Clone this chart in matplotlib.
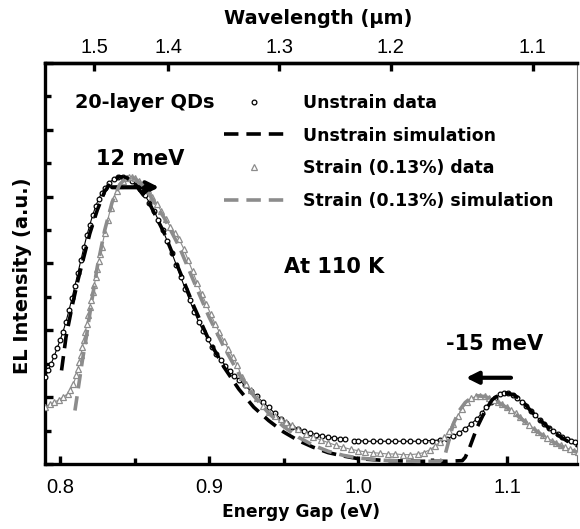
"""
EL spectra of 20-layer QDs, unstrained vs strained (0.13%)
"""

import matplotlib
matplotlib.use("Agg")
import matplotlib.pyplot as plt
from matplotlib.lines import Line2D

plt.rcParams["font.family"] = ["Liberation Sans", "DejaVu Sans"]

# unstrain data (energy in eV, intensity in a.u.)
unstrain_ev = [
    0.790, 0.792, 0.794, 0.796, 0.798, 0.800, 0.802, 0.804, 0.806, 0.808,
    0.810, 0.812, 0.814, 0.816, 0.818, 0.820, 0.822, 0.824, 0.826, 0.828,
    0.830, 0.833, 0.836, 0.839, 0.842, 0.845, 0.848, 0.851, 0.854, 0.857,
    0.860, 0.863, 0.866, 0.869, 0.872, 0.875, 0.878, 0.881, 0.884, 0.887,
    0.890, 0.893, 0.896, 0.899, 0.902, 0.905, 0.908, 0.911, 0.914, 0.917,
    0.920, 0.924, 0.928, 0.932, 0.936, 0.940, 0.944, 0.948, 0.952, 0.956,
    0.960, 0.964, 0.968, 0.972, 0.976, 0.980, 0.984, 0.988, 0.991,
    0.997, 1.000, 1.005, 1.010, 1.015, 1.020, 1.025, 1.030, 1.035, 1.040,
    1.045, 1.050, 1.055, 1.060, 1.064, 1.068, 1.072, 1.076, 1.080, 1.083,
    1.086, 1.089, 1.092, 1.095, 1.098, 1.101, 1.104, 1.107, 1.110, 1.113,
    1.116, 1.119, 1.122, 1.125, 1.128, 1.131, 1.134, 1.137, 1.140, 1.143,
    1.146, 1.149,
]
unstrain_int = [
    1.30, 1.40, 1.50, 1.61, 1.73, 1.85, 1.98, 2.13, 2.30, 2.48,
    2.67, 2.86, 3.05, 3.24, 3.42, 3.58, 3.73, 3.86, 3.97, 4.06,
    4.13, 4.21, 4.26, 4.29, 4.30, 4.28, 4.24, 4.18, 4.11, 4.02,
    3.91, 3.79, 3.65, 3.50, 3.33, 3.16, 2.98, 2.80, 2.62, 2.45,
    2.28, 2.13, 1.99, 1.87, 1.75, 1.65, 1.56, 1.47, 1.39, 1.32,
    1.26, 1.18, 1.09, 1.01, 0.93, 0.85, 0.76, 0.68, 0.62, 0.56,
    0.52, 0.49, 0.46, 0.44, 0.42, 0.40, 0.39, 0.38, 0.37,
    0.35, 0.35, 0.34, 0.34, 0.34, 0.34, 0.34, 0.34, 0.34, 0.34,
    0.35, 0.35, 0.36, 0.38, 0.42, 0.47, 0.53, 0.60, 0.68, 0.76,
    0.85, 0.93, 0.99, 1.04, 1.06, 1.06, 1.03, 0.98, 0.93, 0.87,
    0.80, 0.73, 0.66, 0.60, 0.54, 0.49, 0.45, 0.41, 0.38, 0.35,
    0.33, 0.31,
]

# strain (0.13%) data
strain_ev = [
    0.790, 0.793, 0.796, 0.799, 0.802, 0.805, 0.807, 0.809, 0.811, 0.812,
    0.813, 0.814, 0.815, 0.816, 0.817, 0.818, 0.819, 0.820, 0.821, 0.822,
    0.823, 0.824, 0.825, 0.826, 0.827, 0.828, 0.830, 0.832, 0.834, 0.836,
    0.838, 0.840, 0.842, 0.844, 0.846, 0.848, 0.850, 0.853, 0.856, 0.859,
    0.862, 0.865, 0.868, 0.871, 0.874, 0.877, 0.880, 0.883, 0.886, 0.889,
    0.892, 0.895, 0.898, 0.901, 0.904, 0.907, 0.910, 0.913, 0.916, 0.919,
    0.922, 0.925, 0.928, 0.932, 0.936, 0.940, 0.944, 0.948, 0.952, 0.956,
    0.960, 0.965, 0.970, 0.975, 0.980, 0.985, 0.990, 0.995, 1.000, 1.005,
    1.010, 1.015, 1.020, 1.025, 1.030, 1.035, 1.040, 1.044, 1.048, 1.052,
    1.055, 1.058, 1.061, 1.064, 1.067, 1.070, 1.073, 1.076, 1.079, 1.082,
    1.085, 1.088, 1.091, 1.094, 1.097, 1.100, 1.103, 1.106, 1.109, 1.112,
    1.115, 1.118, 1.121, 1.124, 1.127, 1.130, 1.133, 1.136, 1.139, 1.142,
    1.145, 1.148,
]
strain_int = [
    0.86, 0.89, 0.92, 0.96, 1.00, 1.05, 1.10, 1.20, 1.33, 1.42,
    1.52, 1.63, 1.75, 1.86, 1.98, 2.10, 2.23, 2.35, 2.46, 2.57,
    2.68, 2.80, 2.91, 3.03, 3.14, 3.25, 3.45, 3.65, 3.83, 3.98,
    4.09, 4.18, 4.24, 4.28, 4.30, 4.30, 4.28, 4.24, 4.18, 4.10,
    4.00, 3.89, 3.78, 3.66, 3.55, 3.45, 3.36, 3.22, 3.05, 2.88,
    2.71, 2.55, 2.40, 2.25, 2.10, 1.97, 1.84, 1.72, 1.60, 1.48,
    1.30, 1.20, 1.10, 0.98, 0.87, 0.78, 0.72, 0.67, 0.63, 0.58,
    0.52, 0.45, 0.40, 0.36, 0.32, 0.28, 0.25, 0.22, 0.20, 0.18,
    0.17, 0.16, 0.15, 0.15, 0.14, 0.14, 0.15, 0.17, 0.21, 0.27,
    0.33, 0.40, 0.49, 0.60, 0.72, 0.83, 0.92, 0.98, 1.01, 1.02,
    1.01, 0.98, 0.95, 0.92, 0.89, 0.85, 0.81, 0.76, 0.71, 0.65,
    0.59, 0.53, 0.48, 0.43, 0.39, 0.35, 0.31, 0.28, 0.25, 0.22,
    0.20, 0.18,
]

# unstrain simulation
unstrain_sim_ev = [
    0.801, 0.804, 0.808, 0.812, 0.816, 0.820, 0.825, 0.830, 0.835, 0.840,
    0.845, 0.850, 0.860, 0.870, 0.880, 0.890, 0.900, 0.910, 0.920, 0.930,
    0.940, 0.950, 0.960, 0.970, 0.980, 0.990, 1.000, 1.020, 1.040, 1.060,
    1.070, 1.072, 1.075, 1.080, 1.085, 1.090, 1.095, 1.100, 1.105, 1.110,
    1.115, 1.120, 1.125, 1.130, 1.135, 1.140, 1.145, 1.150,
]
unstrain_sim_int = [
    1.40, 1.90, 2.35, 2.75, 3.10, 3.45, 3.80, 4.08, 4.23, 4.30,
    4.28, 4.20, 3.90, 3.45, 2.90, 2.35, 1.85, 1.45, 1.12, 0.85,
    0.65, 0.48, 0.35, 0.25, 0.17, 0.12, 0.08, 0.05, 0.04, 0.04,
    0.05, 0.10, 0.25, 0.55, 0.78, 0.96, 1.04, 1.06, 1.03, 0.95,
    0.82, 0.70, 0.60, 0.50, 0.42, 0.35, 0.29, 0.25,
]

# strain (0.13%) simulation
strain_sim_ev = [
    0.810, 0.812, 0.815, 0.818, 0.821, 0.825, 0.830, 0.835, 0.840, 0.845,
    0.850, 0.855, 0.860, 0.870, 0.880, 0.890, 0.900, 0.910, 0.920, 0.930,
    0.940, 0.950, 0.960, 0.970, 0.980, 0.990, 1.000, 1.020, 1.040, 1.055,
    1.058, 1.061, 1.064, 1.068, 1.072, 1.076, 1.080, 1.085, 1.090, 1.095,
    1.100, 1.105, 1.110, 1.115, 1.120, 1.125, 1.130, 1.135, 1.140, 1.145,
    1.150,
]
strain_sim_int = [
    0.80, 1.10, 1.55, 1.95, 2.40, 2.95, 3.50, 3.92, 4.18, 4.30,
    4.27, 4.18, 4.03, 3.68, 3.25, 2.72, 2.20, 1.75, 1.35, 1.02,
    0.76, 0.56, 0.40, 0.28, 0.19, 0.13, 0.09, 0.05, 0.04, 0.04,
    0.10, 0.35, 0.60, 0.80, 0.92, 0.99, 1.02, 1.01, 0.97, 0.91,
    0.84, 0.76, 0.67, 0.58, 0.49, 0.41, 0.34, 0.28, 0.23, 0.19,
    0.16,
]

# top axis: wavelength labels and where they sit on the energy scale
wavelength_labels = ["1.5", "1.4", "1.3", "1.2", "1.1"]
wavelength_tick_ev = [0.8228, 0.8725, 0.9470, 1.0221, 1.1174]

gray = "#8c8c8c"
dash = (0, (4, 2.2))
bold_font = {"family": "DejaVu Sans", "weight": "bold"}

fig = plt.figure(figsize=(5.8, 5.29), dpi=100)
ax = fig.add_axes([0.0776, 0.1229, 0.9172, 0.7581])

# data: thin trace under the open markers so the dense chain reads as a band
ax.plot(unstrain_ev[:69], unstrain_int[:69], color="black", lw=0.8, zorder=2)
ax.plot(unstrain_ev[69:], unstrain_int[69:], color="black", lw=0.8, zorder=2)
ax.plot(strain_ev, strain_int, color=gray, lw=0.8, zorder=2)
ax.plot(unstrain_ev, unstrain_int, "o", ms=3.4, mfc="white", mec="black",
        mew=0.9, zorder=3)
ax.plot(strain_ev, strain_int, "^", ms=4.0, mfc="white", mec=gray,
        mew=0.9, zorder=3)
ax.plot(unstrain_sim_ev, unstrain_sim_int, color="black", lw=2.6,
        linestyle=dash, zorder=4)
ax.plot(strain_sim_ev, strain_sim_int, color=gray, lw=2.6,
        linestyle=dash, zorder=4)

ax.set_xlim(0.7899, 1.147)
ax.set_ylim(0, 6)
ax.set_xticks([0.8, 0.9, 1.0, 1.1])
ax.set_xticklabels(["0.8", "0.9", "1.0", "1.1"])
ax.set_xticks([0.85, 0.95, 1.05], minor=True)
ax.set_yticks([0, 1, 2, 3, 4, 5, 6])
ax.set_yticks([0.5, 1.5, 2.5, 3.5, 4.5, 5.5], minor=True)
ax.set_yticklabels([])
ax.tick_params(axis="both", which="major", direction="in", length=6,
               width=2.4, labelsize=14.5, pad=10)
ax.tick_params(axis="both", which="minor", direction="in", length=4,
               width=2.4)
ax.tick_params(axis="y", right=False)
ax.tick_params(axis="x", top=False)
for side in ["left", "bottom", "top"]:
    ax.spines[side].set_linewidth(2.4)
ax.spines["right"].set_linewidth(0.8)
ax.spines["right"].set_color("#777777")

ax.set_xlabel("Energy Gap (eV)", fontsize=12.3, fontdict=bold_font)
ax.xaxis.set_label_coords(0.481, -0.097)
ax.set_ylabel("EL Intensity (a.u.)", fontsize=14, fontdict=bold_font)
ax.yaxis.set_label_coords(-0.025, 0.469)

# wavelength scale on top
ax2 = ax.twiny()
ax2.set_xlim(ax.get_xlim())
ax2.set_xticks(wavelength_tick_ev)
ax2.set_xticklabels(wavelength_labels)
ax2.tick_params(axis="x", direction="in", length=6, width=2.4,
                labelsize=14.5, pad=4)
ax2.spines["top"].set_linewidth(2.4)
ax2.spines["right"].set_visible(False)
ax2.spines["left"].set_visible(False)
ax2.spines["bottom"].set_visible(False)
ax2.set_xlabel("Wavelength (\u03bcm)", fontsize=13.9, fontdict=bold_font)
ax2.xaxis.set_label_coords(0.513, 1.098)

# legend
handles = [
    Line2D([], [], ls="none", marker="o", ms=3.4, mfc="white", mec="black",
           mew=0.9),
    Line2D([], [], color="black", lw=2.6, linestyle=dash),
    Line2D([], [], ls="none", marker="^", ms=4.0, mfc="white", mec=gray,
           mew=0.9),
    Line2D([], [], color=gray, lw=2.6, linestyle=dash),
]
labels = ["Unstrain data", "Unstrain simulation", "Strain (0.13%) data",
          "Strain (0.13%) simulation"]
leg = ax.legend(handles, labels, loc="upper left",
                bbox_to_anchor=(0.308, 0.962), frameon=False, numpoints=1,
                handlelength=3.4, handletextpad=1.1, labelspacing=0.85,
                prop={"size": 12.5, "family": "DejaVu Sans",
                      "weight": "bold"})

ax.text(0.810, 5.41, "20-layer QDs", fontsize=13.9, fontdict=bold_font,
        va="center", ha="left")
ax.text(0.8537, 4.56, "12 meV", fontsize=15, fontdict=bold_font,
        va="center", ha="center")
ax.text(0.9843, 2.95, "At 110 K", fontsize=15, fontdict=bold_font,
        va="center", ha="center")
ax.text(1.0914, 1.80, "-15 meV", fontsize=15, fontdict=bold_font,
        va="center", ha="center")

arrow = dict(arrowstyle="-|>", color="black", lw=3, mutation_scale=18,
             shrinkA=0, shrinkB=0)
ax.annotate("", xy=(0.8665, 4.14), xytext=(0.8349, 4.14), arrowprops=arrow)
ax.annotate("", xy=(1.0725, 1.29), xytext=(1.1027, 1.29), arrowprops=arrow)

fig.savefig("out.png", dpi=100)
